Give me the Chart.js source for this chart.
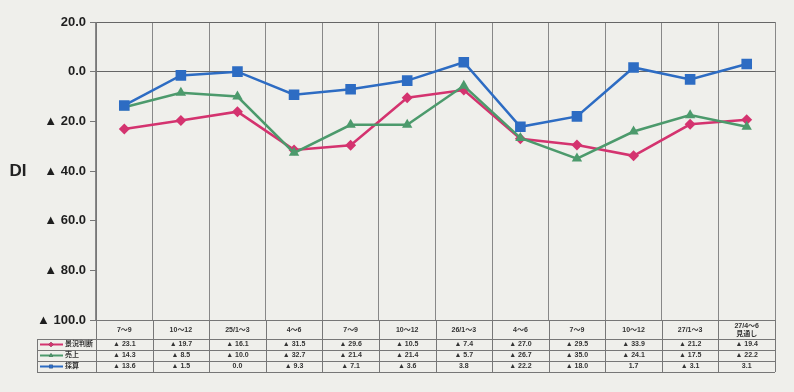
<!DOCTYPE html>
<html>
<head>
<meta charset="utf-8">
<script src="https://cdn.jsdelivr.net/npm/chart.js@4"></script>
<style>
  html, body { margin: 0; padding: 0; background: #efefeb; }
  #wrap { width: 794px; height: 392px; position: relative; }
</style>
</head>
<body>
<div id="wrap"><canvas id="chart" width="794" height="392"></canvas></div>
<script>
const categories = ['7〜9', '10〜12', '25/1〜3', '4〜6', '7〜9', '10〜12', '26/1〜3', '4〜6', '7〜9', '10〜12', '27/1〜3', ['27/4〜6', '見通し']];
const seriesNames = ['景況判断', '売上', '採算'];
const keikyo = [-23.1, -19.7, -16.1, -31.5, -29.6, -10.5, -7.4, -27.0, -29.5, -33.9, -21.2, -19.4];
const uriage = [-14.3, -8.5, -10.0, -32.7, -21.4, -21.4, -5.7, -26.7, -35.0, -24.1, -17.5, -22.2];
const saisan = [-13.6, -1.5, 0.0, -9.3, -7.1, -3.6, 3.8, -22.2, -18.0, 1.7, -3.1, 3.1];
const yTicks = [20, 0, -20, -40, -60, -80, -100];

const colors = ['#d4336f', '#4c9a6c', '#2d6cc3'];
const shapes = ['rectRot', 'triangle', 'rect'];
const radii = [5.5, 6, 7.5];

function fmt(v) {
  return v < 0 ? '▲ ' + (-v).toFixed(1) : v.toFixed(1);
}

// table under the plot, drawn on the x scale
const tablePlugin = {
  id: 'dataTable',
  afterDraw(chart) {
    const ctx = chart.ctx;
    const x = chart.scales.x;
    const area = chart.chartArea;
    const step = (area.right - area.left) / categories.length;
    const top = area.bottom;
    const rows = [top + 19, top + 30, top + 41, top + 52];
    const legLeft = 37;

    ctx.save();
    ctx.strokeStyle = '#777';
    ctx.lineWidth = 1;
    ctx.beginPath();
    ctx.moveTo(area.left, top + 0.5);
    ctx.lineTo(area.right, top + 0.5);
    rows.forEach(y => {
      ctx.moveTo(legLeft, y + 0.5);
      ctx.lineTo(area.right, y + 0.5);
    });
    for (let i = 0; i <= categories.length; i++) {
      const bx = Math.round(area.left + i * step) + 0.5;
      ctx.moveTo(bx, top);
      ctx.lineTo(bx, rows[3]);
    }
    ctx.moveTo(legLeft + 0.5, rows[0]);
    ctx.lineTo(legLeft + 0.5, rows[3]);
    ctx.stroke();

    ctx.fillStyle = '#333';
    ctx.textAlign = 'center';
    ctx.textBaseline = 'middle';
    ctx.font = 'bold 7px "Liberation Sans", "Noto Sans CJK JP", sans-serif';
    categories.forEach((c, i) => {
      const cx = x.getPixelForValue(i);
      if (Array.isArray(c)) {
        ctx.fillText(c[0], cx, top + 6);
        ctx.fillText(c[1], cx, top + 14);
      } else {
        ctx.fillText(c, cx, top + 10);
      }
    });

    const all = [keikyo, uriage, saisan];
    all.forEach((vals, r) => {
      const cy = rows[r] + 5.5;
      vals.forEach((v, i) => {
        ctx.fillText(fmt(v), x.getPixelForValue(i), cy);
      });
      // legend cell
      ctx.strokeStyle = colors[r];
      ctx.lineWidth = 2;
      ctx.beginPath();
      ctx.moveTo(legLeft + 3, cy);
      ctx.lineTo(legLeft + 26, cy);
      ctx.stroke();
      Chart.helpers.drawPoint(ctx, { pointStyle: shapes[r], radius: 2.5, borderWidth: 0 }, legLeft + 14, cy);
      ctx.fillStyle = colors[r];
      ctx.fill();
      ctx.fillStyle = '#333';
      ctx.textAlign = 'left';
      ctx.fillText(seriesNames[r], legLeft + 28, cy);
      ctx.textAlign = 'center';
    });

    ctx.fillStyle = '#222';
    ctx.font = 'bold 17px "Liberation Sans", Arial, sans-serif';
    ctx.fillText('DI', 18, (area.top + area.bottom) / 2);
    ctx.restore();
  }
};

const datasets = [keikyo, uriage, saisan].map((vals, i) => ({
  label: seriesNames[i],
  data: vals,
  borderColor: colors[i],
  backgroundColor: colors[i],
  borderWidth: 2.5,
  pointStyle: shapes[i],
  pointRadius: radii[i],
  pointHoverRadius: radii[i],
  pointBorderWidth: 0,
  tension: 0,
  order: 3 - i
}));

new Chart(document.getElementById('chart').getContext('2d'), {
  type: 'line',
  data: { labels: categories.map(c => Array.isArray(c) ? c.join(' ') : c), datasets: datasets },
  options: {
    responsive: false,
    animation: false,
    layout: { padding: { left: 0, right: 19, top: 22, bottom: 72 } },
    plugins: { legend: { display: false }, tooltip: { enabled: false } },
    scales: {
      x: {
        offset: true,
        ticks: { display: false },
        grid: { color: '#888', drawTicks: false, offset: true },
        border: { display: true, color: '#777' },
        afterFit(scale) { scale.height = 0; }
      },
      y: {
        min: -100,
        max: 20,
        afterBuildTicks(scale) { scale.ticks = yTicks.map(v => ({ value: v })); },
        afterFit(scale) { scale.width = 96; },
        ticks: {
          color: '#1e1e1e',
          padding: 4,
          font: { family: '"Liberation Sans", Arial, sans-serif', size: 13, weight: 'bold' },
          callback: v => fmt(v)
        },
        grid: {
          color: c => (c.tick && (c.tick.value === 0 || c.tick.value === 20)) ? '#666' : 'rgba(0,0,0,0)',
          tickColor: '#777',
          tickLength: 6
        },
        border: { display: true, color: '#777' }
      }
    }
  },
  plugins: [tablePlugin]
});
</script>
</body>
</html>
